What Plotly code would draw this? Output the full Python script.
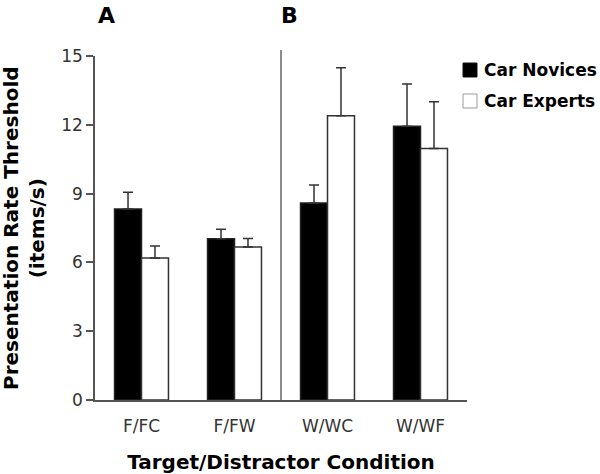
import plotly.graph_objects as go

# Datos
conditions = ["F/FC", "F/FW", "W/WC", "W/WF"]
novices = [8.33, 7.03, 8.59, 11.94]
novices_err = [0.73, 0.42, 0.79, 1.84]
experts = [6.19, 6.67, 12.39, 10.97]
experts_err = [0.52, 0.37, 2.10, 2.04]
series_names = ["Car Novices", "Car Experts"]
y_ticks = [0, 3, 6, 9, 12, 15]

W, H = 600, 474
L, R, T, B = 95, 133, 56, 74


def px_x(px):
    return (px - L) / (W - L - R)


def px_y(py):
    return (H - B - py) / (H - T - B)


fig = go.Figure()
fig.add_trace(go.Bar(
    x=conditions, y=novices, name=series_names[0],
    marker=dict(color="black", line=dict(color="#222", width=1.5)),
    error_y=dict(type="data", symmetric=False, array=novices_err,
                 arrayminus=[0] * len(novices), color="#333",
                 thickness=1.5, width=5),
    showlegend=False,
))
fig.add_trace(go.Bar(
    x=conditions, y=experts, name=series_names[1],
    marker=dict(color="white", line=dict(color="#333", width=1.5)),
    error_y=dict(type="data", symmetric=False, array=experts_err,
                 arrayminus=[0] * len(experts), color="#333",
                 thickness=1.5, width=5),
    showlegend=False,
))

# Línea que separa los paneles A y B
fig.add_shape(type="line", xref="x", yref="paper", x0=1.5, x1=1.5,
              y0=0, y1=px_y(50), line=dict(color="#666", width=1.5))

# Leyenda hecha a mano
legend_rows = [(70, "black", "#111"), (101, "white", "#999")]
for name, (cy, fill, edge) in zip(series_names, legend_rows):
    fig.add_shape(type="rect", xref="paper", yref="paper",
                  x0=px_x(463), x1=px_x(477), y0=px_y(cy + 7), y1=px_y(cy - 7),
                  fillcolor=fill, line=dict(color=edge, width=1))
    fig.add_annotation(text="<b>" + name + "</b>", xref="paper", yref="paper",
                       x=px_x(482), y=px_y(cy), xanchor="left", yanchor="middle",
                       showarrow=False, font=dict(size=17, color="black"))

# Etiquetas de panel
for label, cx in [("A", 106), ("B", 289)]:
    fig.add_annotation(text="<b>" + label + "</b>", xref="paper", yref="paper",
                       x=px_x(cx), y=px_y(15), xanchor="center",
                       yanchor="middle", showarrow=False,
                       font=dict(size=22, color="black"))

# Título del eje Y
fig.add_annotation(text="<b>Presentation Rate Threshold<br>(items/s)</b>",
                   xref="paper", yref="paper", x=px_x(24), y=0.5,
                   xanchor="center", yanchor="middle",
                   textangle=-90, showarrow=False,
                   font=dict(size=20, color="black"))

fig.update_layout(
    width=W, height=H,
    margin=dict(l=L, r=R, t=T, b=B),
    paper_bgcolor="white", plot_bgcolor="white",
    font=dict(family="DejaVu Sans", color="#333"),
    barmode="group", bargap=0.42, bargroupgap=0,
    xaxis=dict(
        range=[-0.5, 3.5], showline=True, linecolor="#555", linewidth=1.5,
        ticks="", tickfont=dict(size=17, color="#333"),
        ticklabelstandoff=10, automargin=False,
        title=dict(text="<b>Target/Distractor Condition</b>",
                   font=dict(size=20, color="black"), standoff=20),
    ),
    yaxis=dict(
        range=[0, 15], tickvals=y_ticks, showline=True, linecolor="#555",
        linewidth=1.5, ticks="outside", ticklen=7, tickcolor="#555",
        tickwidth=1.5, showgrid=False, zeroline=False, automargin=False,
        tickfont=dict(size=17, color="#333"),
    ),
)

# Sin margen en el body para que la figura quede en la esquina
fig.write_html("out.html", config={"displayModeBar": False},
               post_script="document.body.style.margin='0';")
